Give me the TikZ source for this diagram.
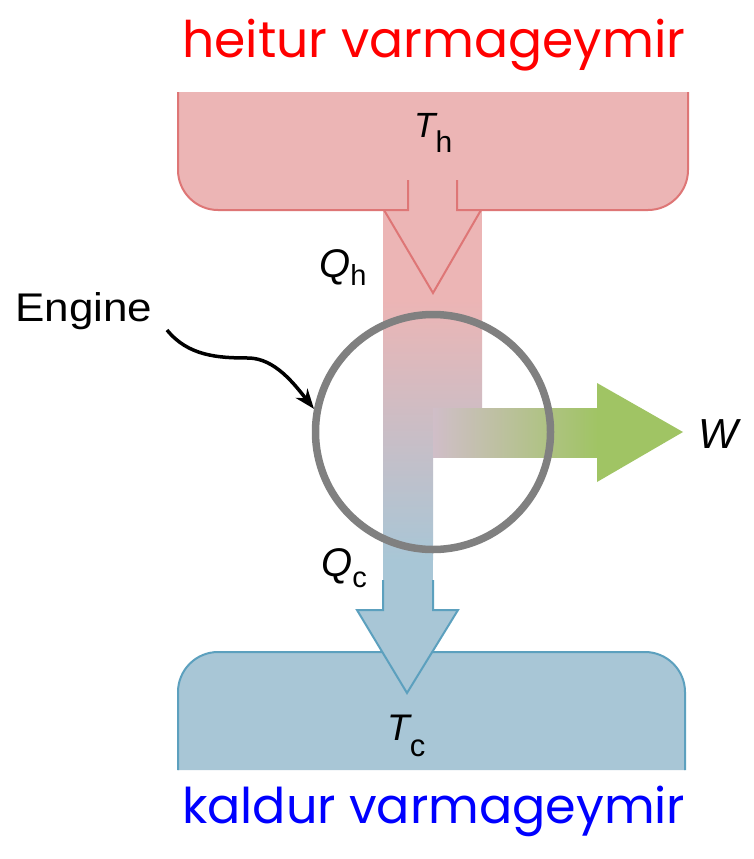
\documentclass[tikz,border=0pt]{standalone}
\usepackage{fontspec}
\setmainfont{Liberation Sans}
\newfontfamily\handfont{Poppins}
\usetikzlibrary{arrows.meta}
\definecolor{hotfill}{RGB}{236,181,181}
\definecolor{hotline}{RGB}{222,118,118}
\definecolor{coldfill}{RGB}{168,198,214}
\definecolor{coldline}{RGB}{92,160,190}
\definecolor{workgreen}{RGB}{160,196,100}
\definecolor{midcol}{RGB}{208,190,200}
\definecolor{enggray}{RGB}{128,128,128}
\begin{document}
\begin{tikzpicture}[x=1pt,y=-1pt,
  lbl/.style={inner sep=0pt, anchor=base west},
  hotborder/.style={draw=hotline, line width=2pt},
  coldborder/.style={draw=coldline, line width=2pt},
  hand/.style={inner sep=0pt, anchor=base west}]
\useasboundingbox[fill=white] (0,0) rectangle (753,859);
% hot reservoir
\fill[hotfill] (178,92) -- (178,170) .. controls (178,192) and (196,210) .. (218,210) -- (648,210) .. controls (670,210) and (688,192) .. (688,170) -- (688,92) -- cycle;
% column
\fill[hotfill] (383,208) rectangle (482,301);
\shade[top color=hotfill, bottom color=coldfill] (383,300) -- (482,300) -- (482,408) -- (433,408) -- (433,560) -- (383,560) -- cycle;
\fill[coldfill] (383,559) rectangle (433,585);
% work arrow
\shade[left color=midcol, right color=workgreen] (433,408) rectangle (598,457);
\fill[workgreen] (597,383) -- (683,432) -- (597,482) -- cycle;
% hot arrow head and border
\draw[hotborder, line join=miter] (384,210) -- (433,293) -- (481,210);
\draw[hotborder] (178,92) -- (178,170) .. controls (178,192) and (196,210) .. (218,210) -- (408,210) -- (408,180);
\draw[hotborder] (457,180) -- (457,210) -- (648,210) .. controls (670,210) and (688,192) .. (688,170) -- (688,92);
% cold reservoir
\fill[coldfill] (178,770) -- (178,692) .. controls (178,670) and (196,652) .. (218,652) -- (645,652) .. controls (667,652) and (685,670) .. (685,692) -- (685,770) -- cycle;
\draw[coldborder] (178,770) -- (178,692) .. controls (178,670) and (196,652) .. (218,652) -- (645,652) .. controls (667,652) and (685,670) .. (685,692) -- (685,770);
\filldraw[fill=coldfill, coldborder, line join=miter] (383,580) -- (383,610) -- (357,610) -- (407,693) -- (458,610) -- (433,610) -- (433,580);
% engine
\node[circle, draw=enggray, line width=7.5pt, minimum size=235pt, inner sep=0pt] (eng) at (433,432) {};
% labels
\node[lbl] (englbl) at (15,321) {\fontsize{40}{40}\selectfont\scalebox{1.1}[1]{Engine}};
\node[lbl] (th) at (414,137) {{\fontsize{35}{35}\selectfont\itshape T}\raisebox{-15pt}{\fontsize{30}{30}\selectfont h}};
\node[lbl] (qh) at (319,277) {{\fontsize{40}{40}\selectfont\itshape Q}\raisebox{-8pt}{\fontsize{29}{29}\selectfont h}};
\node[lbl] (qc) at (321,576) {{\fontsize{40}{40}\selectfont\itshape Q}\raisebox{-11pt}{\fontsize{29}{29}\selectfont c}};
\node[lbl] (tc) at (387,740) {{\fontsize{37}{37}\selectfont\itshape T}\raisebox{-16pt}{\fontsize{31}{31}\selectfont c}};
\node[lbl] (w) at (698,448) {\fontsize{42}{42}\selectfont\itshape W};
\node[hand, text=red] (hot) at (182,58) {\resizebox{503pt}{!}{\handfont heitur varmageymir}};
\node[hand, text=blue] (cold) at (182,823) {\resizebox{503pt}{!}{\handfont kaldur varmageymir}};
% engine pointer
\coordinate (es) at (167,330);
\draw[line width=3.5pt, -{Stealth[length=20pt,width=15pt]}] (es) .. controls (188,356) and (218,358) .. (248,358) .. controls (275,358) and (295,385) .. (eng.169);
\end{tikzpicture}
\end{document}
